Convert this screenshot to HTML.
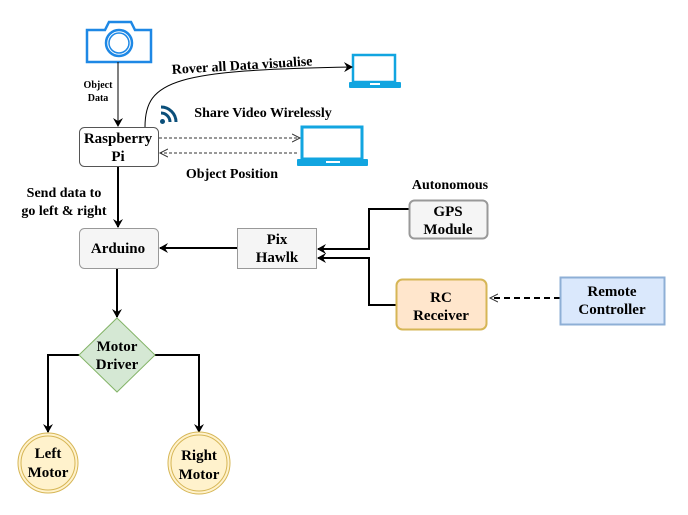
<!DOCTYPE html>
<html><head><style>
body{margin:0;background:#fff;}
svg text{font-family:"Liberation Serif","DejaVu Serif","Times New Roman",serif !important;font-weight:bold;}
</style></head><body>
<svg width="688" height="510" viewBox="0 0 688 510" xmlns="http://www.w3.org/2000/svg" font-family="'Liberation Serif', 'DejaVu Serif', serif" font-weight="bold">
<defs>
<marker id="a" markerWidth="10" markerHeight="10" refX="8" refY="5" orient="auto" markerUnits="userSpaceOnUse"><path d="M0,0 L9,5 L0,10 L3,5 Z" fill="#000"/></marker>
<marker id="o" markerWidth="10" markerHeight="10" refX="8" refY="5" orient="auto" markerUnits="userSpaceOnUse"><path d="M0,1 L8,5 L0,9" fill="none" stroke="#333" stroke-width="1"/></marker>
</defs>
<g fill="none" stroke="#1e88e5" stroke-width="2.5">
<path d="M87,30 h18 l4,-8 h22 l4,8 h16 v32 h-64 z"/>
<circle cx="119" cy="43" r="13"/>
<circle cx="119" cy="43" r="10" stroke-width="1.5"/>
</g>
<g fill="#12a5e0">
<rect x="353" y="55" width="42" height="27" fill="none" stroke="#12a5e0" stroke-width="2.5"/>
<rect x="349" y="82" width="52" height="6" rx="1"/>
<rect x="302" y="127" width="60" height="32" fill="none" stroke="#12a5e0" stroke-width="3"/>
<rect x="297" y="159" width="71" height="7" rx="1"/>
</g>
<rect x="370" y="83" width="10" height="2" fill="#fff"/>
<rect x="326" y="161" width="14" height="2" fill="#fff"/>
<g fill="none" stroke="#0b4f7a" stroke-width="3">
<path d="M161,113 a9,9 0 0 1 9,9"/>
<path d="M161,107 a15,15 0 0 1 15,15"/>
</g>
<circle cx="162.5" cy="121.5" r="2.5" fill="#0b4f7a"/>
<line x1="118" y1="62" x2="118" y2="126" stroke="#000" stroke-width="1" marker-end="url(#a)"/>
<path d="M145,127 C145,80 175,70 352,67" fill="none" stroke="#000" stroke-width="1" marker-end="url(#a)"/>
<line x1="159" y1="138" x2="300" y2="138" stroke="#333" stroke-width="1" stroke-dasharray="3,2" marker-end="url(#o)"/>
<line x1="297" y1="153" x2="160" y2="153" stroke="#333" stroke-width="1" stroke-dasharray="3,2" marker-end="url(#o)"/>
<line x1="118" y1="166" x2="118" y2="227" stroke="#000" stroke-width="2" marker-end="url(#a)"/>
<line x1="237" y1="248" x2="160" y2="248" stroke="#000" stroke-width="2" marker-end="url(#a)"/>
<path d="M409,209 H369 V249 H318" fill="none" stroke="#000" stroke-width="2" marker-end="url(#a)"/>
<path d="M396,305 H369 V258 H318" fill="none" stroke="#000" stroke-width="2" marker-end="url(#a)"/>
<line x1="560" y1="298" x2="490" y2="298" stroke="#000" stroke-width="2" stroke-dasharray="6,4" marker-end="url(#o)"/>
<line x1="117" y1="268" x2="117" y2="317" stroke="#000" stroke-width="2" marker-end="url(#a)"/>
<path d="M79,355 H48 V432" fill="none" stroke="#000" stroke-width="2" marker-end="url(#a)"/>
<path d="M155,355 H199 V432" fill="none" stroke="#000" stroke-width="2" marker-end="url(#a)"/>
<rect x="79.5" y="127.5" width="79" height="39" rx="5" fill="#fff" stroke="#555"/>
<rect x="79.5" y="228.5" width="79" height="40" rx="5" fill="#f5f5f5" stroke="#999"/>
<rect x="237.5" y="228.5" width="79" height="40" fill="#f5f5f5" stroke="#999"/>
<rect x="409.5" y="200.5" width="78" height="38" rx="5" fill="#f5f5f5" stroke="#999" stroke-width="2"/>
<rect x="396.5" y="279.5" width="90" height="50" rx="6" fill="#ffe6cc" stroke="#d6b656" stroke-width="2"/>
<rect x="560.5" y="277.5" width="104" height="47" fill="#dae8fc" stroke="#8eafd6" stroke-width="2"/>
<polygon points="117,318 155,355 117,392 79,355" fill="#d5e8d4" stroke="#82b366"/>
<circle cx="48" cy="463" r="30" fill="#fff2cc" stroke="#d6b656"/>
<circle cx="48" cy="463" r="27" fill="none" stroke="#d6b656"/>
<circle cx="199" cy="463" r="31" fill="#fff2cc" stroke="#d6b656"/>
<circle cx="199" cy="463" r="28" fill="none" stroke="#d6b656"/>
<g font-size="15" text-anchor="middle" fill="#000">
<text x="118" y="143">Raspberry</text><text x="118" y="161">Pi</text>
<text x="118" y="253">Arduino</text>
<text x="277" y="244">Pix</text><text x="277" y="262">Hawlk</text>
<text x="448" y="216">GPS</text><text x="448" y="234">Module</text>
<text x="441" y="302">RC</text><text x="441" y="320">Receiver</text>
<text x="612" y="296">Remote</text><text x="612" y="314">Controller</text>
<text x="117" y="351">Motor</text><text x="117" y="369">Driver</text>
<text x="48" y="458">Left</text><text x="48" y="477">Motor</text>
<text x="199" y="460">Right</text><text x="199" y="479">Motor</text>
</g>
<g font-size="14" text-anchor="middle" fill="#000">
<text x="450" y="189">Autonomous</text>
<text x="64" y="197">Send data to</text><text x="64" y="215">go left &amp; right</text>
<text x="263" y="117">Share Video Wirelessly</text>
<text x="232" y="178">Object Position</text>
</g>
<text x="172" y="74" font-size="14" transform="rotate(-3.5 172 74)">Rover all Data visualise</text>
<g font-size="10" text-anchor="middle"><text x="98" y="88">Object</text><text x="98" y="101">Data</text></g>
</svg>
</body></html>
